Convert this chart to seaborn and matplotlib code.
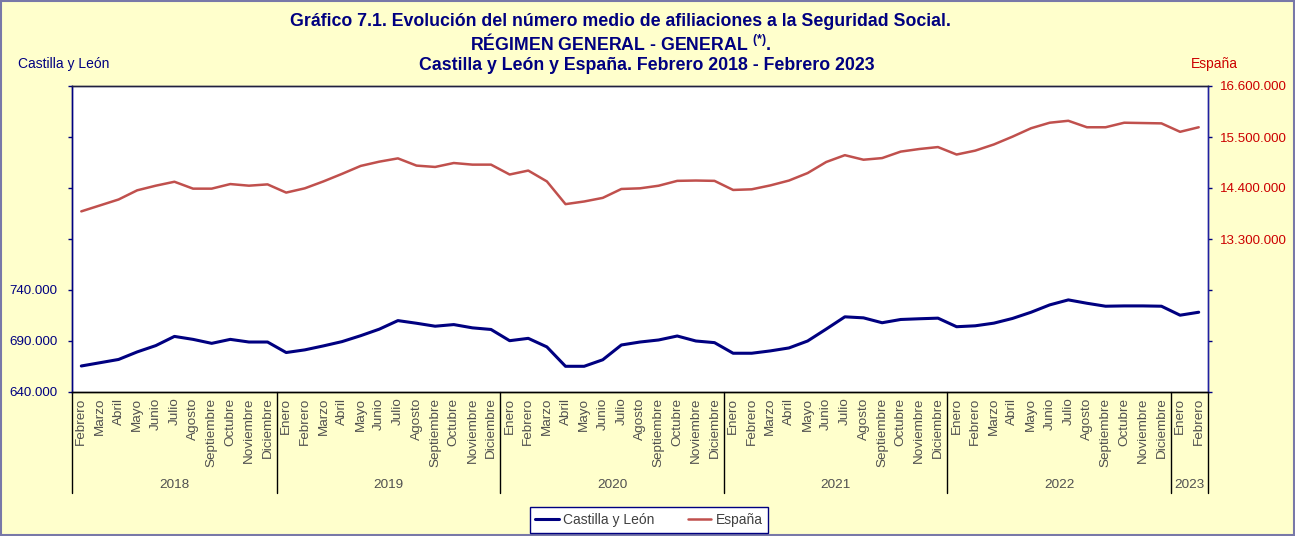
import pandas as pd
import matplotlib
matplotlib.use("Agg")
import matplotlib.pyplot as plt
import seaborn as sns
from matplotlib.transforms import blended_transform_factory
from matplotlib.patches import Rectangle
from matplotlib.ticker import FixedLocator, FuncFormatter

# Month labels (Feb 2018 - Feb 2023)
all_months = ["Enero", "Febrero", "Marzo", "Abril", "Mayo", "Junio", "Julio",
              "Agosto", "Septiembre", "Octubre", "Noviembre", "Diciembre"]
years = ["2018", "2019", "2020", "2021", "2022", "2023"]
months_per_year = [11, 12, 12, 12, 12, 2]
months = all_months[1:] + all_months * 4 + all_months[:2]

# Average affiliations, Castilla y León (left axis)
castilla_leon = [665500, 668700, 671900, 679300, 685500, 694500, 691600, 687700, 691600, 689000, 689000,
                 678700, 681300, 685200, 689400, 695200, 701600, 710000, 707400, 704500, 706100, 702900, 701300,
                 690300, 692600, 684200, 665200, 665200, 671600, 686100, 689000, 691000, 694900, 690000, 688400,
                 678000, 678000, 680300, 683200, 690000, 701700, 713700, 712700, 707900, 711100, 711800, 712400,
                 704000, 704900, 707500, 712100, 718200, 725400, 730300, 727000, 724100, 724400, 724400, 724100,
                 715300, 718200]

# Average affiliations, España (right axis)
espana = [13896000, 14024000, 14152000, 14350000, 14450000, 14535000, 14386000, 14386000, 14485000, 14450000, 14478000,
          14301000, 14393000, 14542000, 14705000, 14876000, 14968000, 15039000, 14883000, 14854000, 14939000, 14904000, 14904000,
          14691000, 14776000, 14542000, 14052000, 14109000, 14187000, 14379000, 14393000, 14449000, 14554000, 14561000, 14554000,
          14358000, 14372000, 14456000, 14561000, 14722000, 14961000, 15108000, 15010000, 15045000, 15185000, 15241000, 15283000,
          15122000, 15206000, 15339000, 15507000, 15689000, 15808000, 15850000, 15710000, 15710000, 15808000, 15801000, 15794000,
          15612000, 15710000]

left_ticks = [640000, 690000, 740000, 790000, 840000, 890000, 940000]
right_ticks = [10000000, 11100000, 12200000, 13300000, 14400000, 15500000, 16600000]

NAVY = "#000080"
RED = "#CC0000"
LINE_RED = "#C0504D"
GREY = "#505050"
BG = "#FFFFCC"


def thousands(v):
    return f"{v:,.0f}".replace(",", ".")


def main():
    sns.set_style("white")
    plt.rcParams["font.family"] = ["Liberation Sans", "DejaVu Sans"]
    plt.rcParams["mathtext.default"] = "regular"

    df = pd.DataFrame({"pos": range(len(months)), "cyl": castilla_leon, "esp": espana})

    fig = plt.figure(figsize=(12.95, 5.36), dpi=100, facecolor=BG)
    ax = fig.add_axes([72 / 1295, 1 - 392 / 536, (1208 - 72) / 1295, (392 - 86) / 536])
    ax.set_facecolor("white")
    ax2 = ax.twinx()

    sns.lineplot(data=df, x="pos", y="cyl", ax=ax, color=NAVY, linewidth=2.2, label="Castilla y León")
    sns.lineplot(data=df, x="pos", y="esp", ax=ax2, color=LINE_RED, linewidth=1.8, label="España")

    ax.set_xlim(-0.5, len(months) - 0.5)
    ax.set_ylim(640000, 940000)
    ax2.set_ylim(10000000, 16600000)

    # left axis: only lower ticks are labelled
    ax.yaxis.set_major_locator(FixedLocator(left_ticks))
    ax.yaxis.set_major_formatter(FuncFormatter(lambda v, p: thousands(v) if v <= 740000 else ""))
    ax.tick_params(axis="y", left=True, length=3, width=1, color=NAVY, labelcolor=NAVY,
                   labelsize=9.6, pad=7.5)
    ax2.yaxis.set_major_locator(FixedLocator(right_ticks))
    ax2.yaxis.set_major_formatter(FuncFormatter(lambda v, p: thousands(v) if v >= 13300000 else ""))
    ax2.tick_params(axis="y", right=True, length=3, width=1, color=NAVY, labelcolor=RED,
                    labelsize=9.6, pad=5.5)

    ax.set_xticks(range(len(months)))
    ax.set_xticklabels(months, rotation=90, fontsize=9.7, color=GREY)
    ax.tick_params(axis="x", length=0, pad=4)

    for a in (ax, ax2):
        a.set_xlabel("")
        a.set_ylabel("")
        for s in a.spines.values():
            s.set_visible(True)
            s.set_linewidth(1)
        a.spines["left"].set_color(NAVY)
        a.spines["right"].set_color("#2020A0")
        a.spines["top"].set_color("#202040")
        a.spines["bottom"].set_color("black")

    # year separators and year labels below the axis
    trans = blended_transform_factory(ax.transData, ax.transAxes)
    start = -0.5
    bounds = [start]
    for year, n in zip(years, months_per_year):
        end = start + n
        ax.text((start + end) / 2, -0.305, year, transform=trans, ha="center", va="center",
                fontsize=9.7, color=GREY)
        start = end
        bounds.append(end)
    for b in bounds:
        ax.plot([b, b], [0, -0.33], transform=trans, color="black", lw=1, clip_on=False)

    # titles
    fig.text(620 / 1295, 1 - 22 / 536, "Gráfico 7.1. Evolución del número medio de afiliaciones a la Seguridad Social.",
             ha="center", va="center", fontsize=12.8, fontweight="bold", color=NAVY)
    fig.text(621 / 1295, 1 - 44 / 536, "RÉGIMEN GENERAL - GENERAL $^{(*)}$.",
             ha="center", va="center", fontsize=12.8, fontweight="bold", color=NAVY)
    fig.text(647 / 1295, 1 - 65 / 536, "Castilla y León y España. Febrero 2018 - Febrero 2023",
             ha="center", va="center", fontsize=12.8, fontweight="bold", color=NAVY)
    fig.text(18 / 1295, 1 - 64 / 536, "Castilla y León", ha="left", va="center", fontsize=10, color=NAVY)
    fig.text(1214 / 1295, 1 - 64 / 536, "España", ha="center", va="center", fontsize=10, color=RED)

    # legend
    h1, l1 = ax.get_legend_handles_labels()
    h2, l2 = ax2.get_legend_handles_labels()
    for a in (ax, ax2):
        if a.get_legend() is not None:
            a.get_legend().remove()
    leg = fig.legend(h1 + h2, l1 + l2, loc="center", bbox_to_anchor=(649 / 1295, 1 - 520 / 536),
                     ncol=2, frameon=True, fancybox=False, fontsize=10, handlelength=1.7,
                     handletextpad=0.3, columnspacing=2.4, borderpad=0.4, borderaxespad=0)
    leg.get_frame().set_edgecolor(NAVY)
    leg.get_frame().set_facecolor("white")
    leg.get_frame().set_alpha(1)
    for t in leg.get_texts():
        t.set_color("#404040")

    # outer border of the figure
    fig.patches.append(Rectangle((0.001, 0.002), 0.998, 0.996, transform=fig.transFigure,
                                 fill=False, edgecolor="#7878A8", lw=1.5))

    fig.savefig("out.png", dpi=100, facecolor=BG)


if __name__ == "__main__":
    main()
